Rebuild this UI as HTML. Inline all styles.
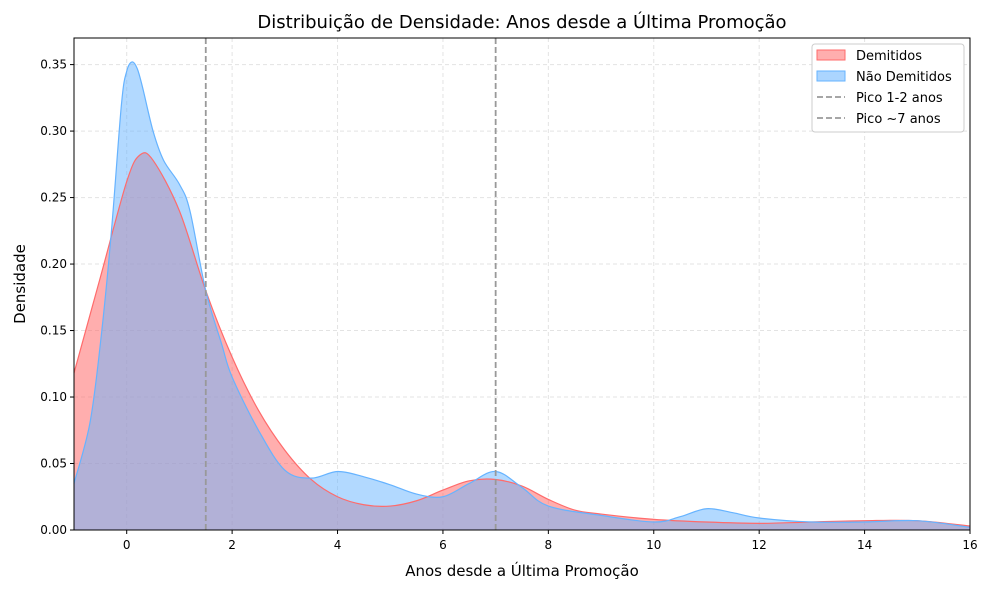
<!DOCTYPE html>
<html><head><meta charset="utf-8"><style>
body{margin:0;background:#fff;font-family:"Liberation Sans","DejaVu Sans",sans-serif;}
svg text{font-family:"DejaVu Sans","Liberation Sans",sans-serif;}
</style></head><body>
<svg id="c" width="989" height="590"></svg>
<script>
const xTicks=[0,2,4,6,8,10,12,14,16];
const yTicks=[0,0.05,0.10,0.15,0.20,0.25,0.30,0.35];
const redX=[-1,-0.5,0,0.25,0.5,1,1.5,2,2.5,3,3.5,4,4.5,5,5.5,6,6.5,7,7.5,8,8.5,9,10,11,12,13,14,15,16];
const redY=[0.118,0.19,0.262,0.282,0.278,0.24,0.18,0.13,0.09,0.06,0.038,0.025,0.019,0.018,0.022,0.03,0.037,0.038,0.033,0.023,0.015,0.012,0.008,0.006,0.005,0.006,0.007,0.007,0.003];
const blueX=[-1,-0.7,-0.5,-0.3,-0.1,0,0.1,0.2,0.3,0.5,0.7,1,1.2,1.5,1.8,2,2.5,3,3.5,4,4.5,5,5.5,6,6.5,7,7.5,8,9,10,10.5,11,11.5,12,13,14,15,16];
const blueY=[0.035,0.08,0.14,0.22,0.32,0.345,0.352,0.347,0.333,0.3,0.278,0.26,0.24,0.18,0.14,0.115,0.075,0.045,0.039,0.044,0.04,0.034,0.027,0.025,0.035,0.044,0.032,0.018,0.011,0.006,0.01,0.016,0.013,0.009,0.006,0.006,0.007,0.002];
const peaks=[1.5,7];
const L=74,R=970,T=38,B=530;
const sx=v=>L+(v+1)/17*(R-L);
const sy=v=>B-v/0.37*(B-T);
const svg=document.getElementById('c');
const NS='http://www.w3.org/2000/svg';
function mk(t,a,txt){const e=document.createElementNS(NS,t);for(const k in a)e.setAttribute(k,a[k]);if(txt!==undefined)e.textContent=txt;svg.appendChild(e);return e;}
function curve(xs,ys){const p=xs.map((x,i)=>[sx(x),sy(ys[i])]);let d=`M${p[0][0]},${p[0][1]}`;
for(let i=0;i<p.length-1;i++){const p0=p[Math.max(0,i-1)],p1=p[i],p2=p[i+1],p3=p[Math.min(p.length-1,i+2)];
d+=` C${p1[0]+(p2[0]-p0[0])/6},${p1[1]+(p2[1]-p0[1])/6} ${p2[0]-(p3[0]-p1[0])/6},${p2[1]-(p3[1]-p1[1])/6} ${p2[0]},${p2[1]}`;}return d;}
xTicks.forEach(t=>{let e=mk('line',{x1:sx(t),x2:sx(t),y1:T,y2:B,stroke:'#e3e3e3','stroke-dasharray':'4,3'});
});
yTicks.forEach(t=>{let e=mk('line',{x1:L,x2:R,y1:sy(t),y2:sy(t),stroke:'#e3e3e3','stroke-dasharray':'4,3'});
});
const rd=curve(redX,redY),bd=curve(blueX,blueY);
let e;
e=mk('path',{d:rd+` L${sx(16)},${B} L${sx(-1)},${B} Z`,fill:'#ff6b6b','fill-opacity':0.55});

e=mk('path',{d:bd+` L${sx(16)},${B} L${sx(-1)},${B} Z`,fill:'#66b3ff','fill-opacity':0.5});

e=mk('path',{d:rd,fill:'none',stroke:'#ff6b6b','stroke-width':1.2});

e=mk('path',{d:bd,fill:'none',stroke:'#66b3ff','stroke-width':1.2});

peaks.forEach(p=>{let e=mk('line',{x1:sx(p),x2:sx(p),y1:T,y2:B,stroke:'#999','stroke-width':1.8,'stroke-dasharray':'6,3'});
});
e=mk('rect',{x:L,y:T,width:R-L,height:B-T,fill:'none',stroke:'#000','stroke-width':1});

xTicks.forEach(t=>{mk('line',{x1:sx(t),x2:sx(t),y1:B,y2:B+4,stroke:'#000'});
let e=mk('text',{x:sx(t),y:B+19,'text-anchor':'middle','font-size':12},String(t));
});
yTicks.forEach(t=>{mk('line',{x1:L-4,x2:L,y1:sy(t),y2:sy(t),stroke:'#000'});
let e=mk('text',{x:L-7,y:sy(t)+4,'text-anchor':'end','font-size':12},t.toFixed(2));
});
e=mk('text',{x:522,y:28,'text-anchor':'middle','font-size':18},'Distribuição de Densidade: Anos desde a Última Promoção');

e=mk('text',{x:522,y:576,'text-anchor':'middle','font-size':15},'Anos desde a Última Promoção');

e=mk('text',{x:25,y:284,'text-anchor':'middle','font-size':15,transform:'rotate(-90 25 284)'},'Densidade');

e=mk('rect',{x:812,y:44,width:152,height:88,fill:'#fff',stroke:'#ccc',rx:3});

const items=[['Demitidos','patch','#ff6b6b'],['Não Demitidos','patch','#66b3ff'],['Pico 1-2 anos','dash','#999'],['Pico ~7 anos','dash','#999']];
items.forEach((it,i)=>{const y=55+i*21;
if(it[1]==='patch')mk('rect',{x:817,y:y-5,width:28,height:10,fill:it[2],'fill-opacity':0.55,stroke:it[2]});
else mk('line',{x1:817,x2:845,y1:y,y2:y,stroke:it[2],'stroke-width':1.8,'stroke-dasharray':'6,3'});
let e=mk('text',{x:856,y:y+5,'font-size':13},it[0]);
});
</script>
</body></html>
